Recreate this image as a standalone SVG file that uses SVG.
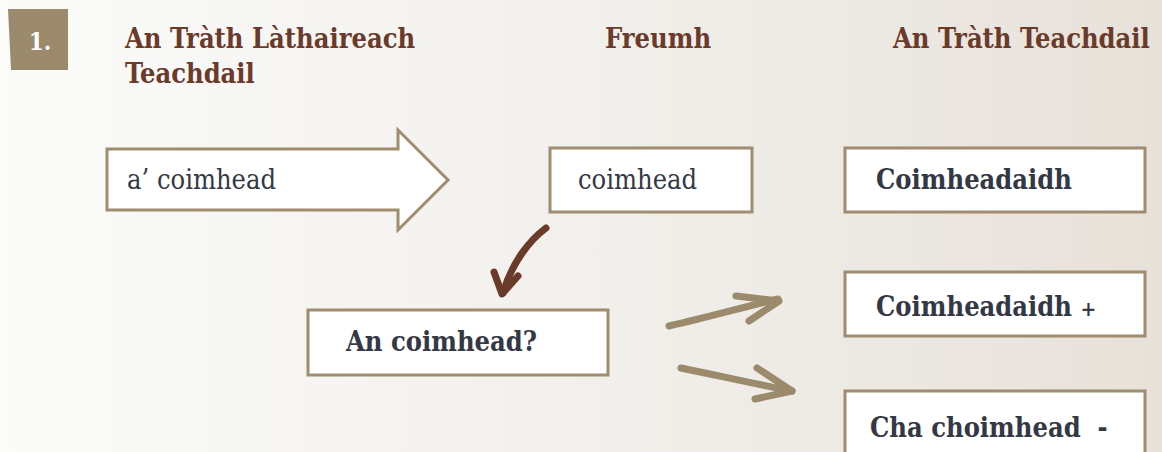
<svg xmlns="http://www.w3.org/2000/svg" width="1162" height="452" viewBox="0 0 1162 452">
<defs>
<linearGradient id="bg" x1="0" y1="0" x2="1" y2="0">
<stop offset="0" stop-color="#fbfbfa"/>
<stop offset="0.5" stop-color="#f2f0ec"/>
<stop offset="1" stop-color="#e7e1d9"/>
</linearGradient>
<style>
.hd{font-family:"DejaVu Serif Condensed","DejaVu Serif",serif;font-weight:bold;font-size:27px;fill:#6a3a2b}
.box{fill:#ffffff;stroke:#a08c6e;stroke-width:3}
.t{font-family:"DejaVu Serif Condensed","DejaVu Serif",serif;font-size:27px;fill:#343845;white-space:pre}
.b{font-weight:bold}
.tan{fill:none;stroke:#9c8a6c;stroke-width:7;stroke-linecap:round;stroke-linejoin:round}
.brn{fill:none;stroke:#6a3a2b;stroke-width:7;stroke-linecap:round;stroke-linejoin:round}
</style>
</defs>
<rect x="0" y="0" width="1162" height="452" fill="url(#bg)"/>
<g id="badge">
<polygon points="8,9 68,9 68,70 11,70" fill="#9c8a6c"/>
<text x="40" y="50" text-anchor="middle" font-family="'DejaVu Serif Condensed','DejaVu Serif',serif" font-weight="bold" font-size="24" fill="#ffffff">1.</text>
</g>
<g id="headers">
<text class="hd" x="125" y="48">An Tràth Làthaireach</text>
<text class="hd" x="125" y="83">Teachdail</text>
<text class="hd" x="605" y="48">Freumh</text>
<text class="hd" x="893" y="48">An Tràth Teachdail</text>
</g>
<g id="n-present">
<polygon class="box" points="107,149 398,149 398,130 448,180 398,230 398,210 107,210"/>
<text class="t" x="127" y="189">a’ coimhead</text>
</g>
<g id="n-root">
<rect class="box" x="550" y="148" width="202" height="64"/>
<text class="t" x="578" y="189">coimhead</text>
</g>
<g id="n-future">
<rect class="box" x="845" y="148" width="300" height="64"/>
<text class="t b" x="876" y="189">Coimheadaidh</text>
</g>
<g id="n-question">
<rect class="box" x="308" y="310" width="300" height="65"/>
<text class="t b" x="346" y="351">An coimhead?</text>
</g>
<g id="n-pos">
<rect class="box" x="845" y="272" width="300" height="64"/>
<text class="t b" x="876" y="316">Coimheadaidh <tspan font-size="21">+</tspan></text>
</g>
<g id="n-neg">
<rect class="box" x="845" y="391" width="300" height="70"/>
<text class="t b" x="870" y="437">Cha choimhead  -</text>
</g>
<g id="connectors">
<path class="brn" d="M546,228 C530,240 512,262 503,293"/>
<path class="brn" d="M494,272 L502,294 L518,276"/>
<path class="tan" d="M669,326 C705,318 740,308 778,299"/>
<path class="tan" d="M736,296 L779,301 L749,321"/>
<path class="tan" d="M681,368 C720,376 755,384 792,391"/>
<path class="tan" d="M757,368 L792,391 L755,399"/>
</g>
</svg>
